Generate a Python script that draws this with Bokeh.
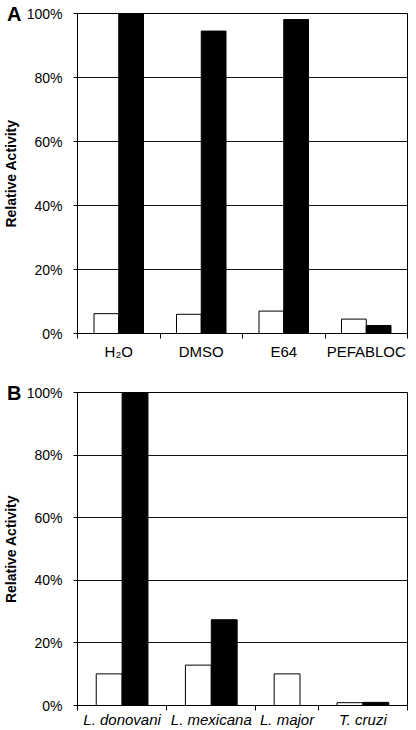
from bokeh.plotting import figure
from bokeh.layouts import column
from bokeh.models import (Range1d, LinearAxis, FixedTicker, NumeralTickFormatter,
                          ColumnDataSource, Grid)
from bokeh.embed import file_html
from bokeh.resources import INLINE

# ---- data ----
a_categories = ["H\u2082O", "DMSO", "E64", "PEFABLOC"]
a_open = [0.062, 0.060, 0.070, 0.045]      # white bars
a_filled = [1.000, 0.945, 0.981, 0.025]    # black bars

b_categories = ["L. donovani", "L. mexicana", "L. major", "T. cruzi"]
b_open = [0.101, 0.129, 0.101, 0.009]
b_filled = [1.000, 0.274, None, 0.010]     # no black bar for L. major

y_ticks = [0.0, 0.2, 0.4, 0.6, 0.8, 1.0]
y_title = "Relative Activity"

# ---- layout (relative category widths) ----
a_widths = [1.0, 1.0, 1.0, 1.0]
b_widths = [1.0, 1.0, 0.7, 1.0]

FONT = "Liberation Sans"


def make_panel(cats, opens, filleds, widths, bar_w, letter, height, top,
               bottom, italic, lab_standoff):
    n = len(cats)
    edges = [0.0]
    for w in widths:
        edges.append(edges[-1] + w)
    centers = [(edges[i] + edges[i + 1]) / 2 for i in range(n)]

    p = figure(width=408, height=height, output_backend="svg", toolbar_location=None,
               x_range=Range1d(0, edges[-1]), y_range=Range1d(0, 1.0),
               x_axis_type=None, y_axis_type=None,
               min_border_left=72, min_border_right=1,
               min_border_top=top, min_border_bottom=bottom)
    p.outline_line_color = "black"
    p.outline_line_width = 1
    p.background_fill_color = "white"
    p.border_fill_color = "white"

    xo, xf, fv, vo = [], [], [], []
    for c, o, f in zip(centers, opens, filleds):
        if f is None:
            xo.append(c)
        else:
            xo.append(c - bar_w / 2)
            xf.append(c + bar_w / 2)
            fv.append(f)
        vo.append(o)
    src_o = ColumnDataSource(dict(x=xo, top=vo))
    src_f = ColumnDataSource(dict(x=xf, top=fv))

    # main y axis (tick labels only)
    yax = LinearAxis(ticker=FixedTicker(ticks=y_ticks),
                     formatter=NumeralTickFormatter(format="0%"))
    yax.major_label_text_font = FONT
    yax.major_label_text_font_size = "14px"
    yax.major_label_text_color = "black"
    yax.major_label_standoff = 11
    yax.major_tick_out = 4
    yax.major_tick_in = 0
    yax.minor_tick_line_color = None
    yax.axis_line_color = "black"
    yax.major_tick_line_color = "black"
    p.add_layout(yax, "left")

    # outer left axis: panel letter + axis title
    lax = LinearAxis(ticker=FixedTicker(ticks=[1.0]))
    lax.major_label_overrides = {1.0: letter}
    lax.major_label_text_font = FONT
    lax.major_label_text_font_style = "bold"
    lax.major_label_text_font_size = "20px"
    lax.major_label_text_color = "black"
    lax.major_label_standoff = 2
    lax.major_tick_out = 0
    lax.major_tick_in = 0
    lax.major_tick_line_color = None
    lax.minor_tick_line_color = None
    lax.axis_line_color = None
    lax.axis_label = y_title
    lax.axis_label_text_font = FONT
    lax.axis_label_text_font_style = "bold"
    lax.axis_label_text_font_size = "14px"
    lax.axis_label_text_color = "black"
    lax.axis_label_standoff = -15
    p.add_layout(lax, "left")

    # x axis: labels at category centres, ticks at boundaries
    xax = LinearAxis(ticker=FixedTicker(ticks=centers, minor_ticks=edges))
    xax.major_label_overrides = {c: lab for c, lab in zip(centers, cats)}
    xax.major_tick_line_color = None
    xax.major_tick_out = 5
    xax.major_tick_in = 0
    xax.minor_tick_line_color = "black"
    xax.minor_tick_out = 5
    xax.minor_tick_in = 0
    xax.axis_line_color = "black"
    xax.major_label_text_font = FONT
    xax.major_label_text_font_size = "15px"
    xax.major_label_text_color = "black"
    xax.major_label_standoff = lab_standoff
    if italic:
        xax.major_label_text_font_style = "italic"
    p.add_layout(xax, "below")

    g = Grid(dimension=1, ticker=FixedTicker(ticks=y_ticks[1:-1]),
             grid_line_color="#111111", grid_line_width=1)
    p.add_layout(g)

    p.vbar(x="x", top="top", bottom=0, width=bar_w, source=src_o,
           fill_color="white", line_color="black", line_width=1)
    p.vbar(x="x", top="top", bottom=0, width=bar_w, source=src_f,
           fill_color="black", line_color="black", line_width=1)
    return p


pa = make_panel(a_categories, a_open, a_filled, a_widths, 0.3, "A",
                368, 13, 35, False, 4)
pb = make_panel(b_categories, b_open, b_filled, b_widths, 0.29, "B",
                362, 24, 23, True, 0)

layout = column(pa, pb, spacing=0)
open("out.html", "w").write(file_html(layout, INLINE))
